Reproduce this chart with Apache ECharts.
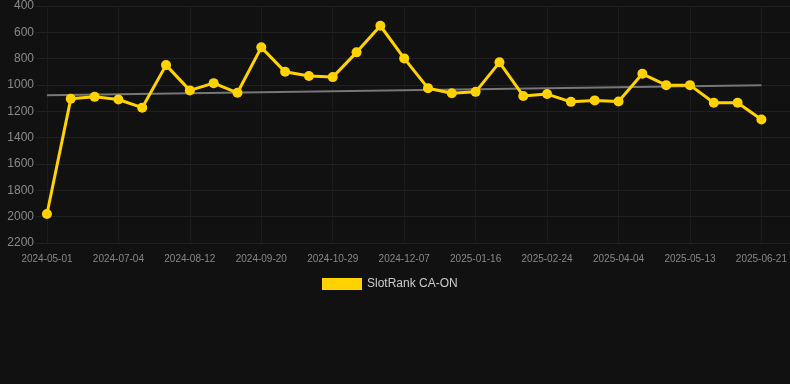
<!DOCTYPE html>
<html>
<head>
<meta charset="utf-8">
<script src="https://cdn.jsdelivr.net/npm/echarts@6/dist/echarts.min.js"></script>
<style>
  html, body { margin: 0; padding: 0; background: #111111; }
  #chart { width: 790px; height: 384px; }
</style>
</head>
<body>
<div id="chart"></div>
<script>
const dates = [
  "2024-05-01", "2024-06-08", "2024-06-21", "2024-07-04", "2024-07-17", "2024-07-30",
  "2024-08-12", "2024-08-25", "2024-09-07", "2024-09-20", "2024-10-03", "2024-10-16",
  "2024-10-29", "2024-11-11", "2024-11-24", "2024-12-07", "2024-12-20", "2025-01-03",
  "2025-01-16", "2025-01-29", "2025-02-11", "2025-02-24", "2025-03-09", "2025-03-22",
  "2025-04-04", "2025-04-17", "2025-04-30", "2025-05-13", "2025-05-26", "2025-06-08",
  "2025-06-21"
];
const ranks = [
  1980, 1105, 1090, 1110, 1172, 849, 1041, 986, 1059, 714, 900,
  932, 940, 752, 550, 798, 1024, 1062, 1052, 828, 1083, 1069,
  1128, 1117, 1125, 915, 1001, 1001, 1135, 1135, 1262
];
const trendEnds = [1077, 1001];
const labelIdx = [0, 3, 6, 9, 12, 15, 18, 21, 24, 27, 30];
const yTicks = [400, 600, 800, 1000, 1200, 1400, 1600, 1800, 2000, 2200];

const chart = echarts.init(document.getElementById("chart"), null, { renderer: "canvas" });

chart.setOption({
  animation: false,
  backgroundColor: "#111111",
  textStyle: { fontFamily: "Liberation Sans, Arial, sans-serif" },
  grid: { left: 36, right: 0, top: 6, bottom: 141 },
  legend: {
    top: 273,
    left: 317,
    itemWidth: 40,
    itemHeight: 12,
    itemGap: 10,
    textStyle: { color: "#cccccc", fontSize: 12 },
    data: [{ name: "SlotRank CA-ON", icon: "rect" }]
  },
  xAxis: {
    type: "value",
    min: -0.46,
    max: 31.2,
    axisLine: { show: false },
    axisTick: { show: false, customValues: labelIdx },
    axisLabel: {
      customValues: labelIdx,
      formatter: v => dates[v],
      color: "#888888",
      fontSize: 10,
      margin: 11
    },
    splitLine: { show: true, lineStyle: { color: "#1c1c1c", width: 1 } }
  },
  yAxis: {
    type: "value",
    inverse: true,
    min: yTicks[0],
    max: yTicks[yTicks.length - 1],
    interval: 200,
    axisLine: { show: false },
    axisTick: { show: false },
    axisLabel: { color: "#8a8a8a", fontSize: 12, margin: 2, formatter: v => String(v) },
    splitLine: { lineStyle: { color: "#202020", width: 1 } }
  },
  series: [
    {
      name: "SlotRank CA-ON",
      type: "line",
      data: ranks.map((v, i) => [i, v]),
      symbol: "circle",
      symbolSize: 10,
      lineStyle: { color: "#ffd200", width: 3 },
      itemStyle: { color: "#ffd200" },
      z: 3,
      markLine: {
        silent: true,
        symbol: "none",
        label: { show: false },
        lineStyle: { color: "#777777", width: 2, type: "solid" },
        z: 2,
        data: [[
          { coord: [0, trendEnds[0]] },
          { coord: [ranks.length - 1, trendEnds[1]] }
        ]]
      }
    }
  ]
});
</script>
</body>
</html>
